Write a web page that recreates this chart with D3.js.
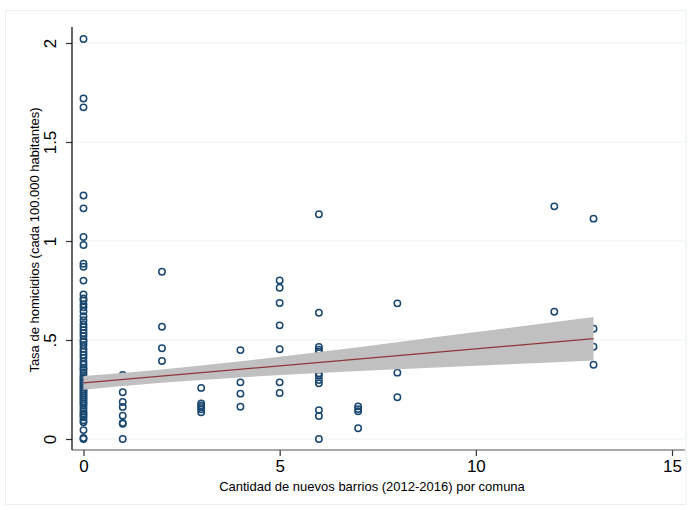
<!DOCTYPE html>
<html><head><meta charset="utf-8">
<script src="https://cdn.jsdelivr.net/npm/d3@7"></script>
<style>body{margin:0;background:#fff}svg{display:block}text{font-family:"Liberation Sans",Arial,sans-serif}</style>
</head><body><svg id="c" width="689" height="510"></svg>
<script>
// Scatter data: number of new neighbourhoods (x) and homicide rate (y)
const x0Vals = [2.02,1.72,1.675,1.23,1.165,1.02,0.98,0.885,0.87,0.80,0.73,0.71,0.70,0.68,0.665,0.645,0.62,0.60,0.58,0.565,0.55,0.535,0.52,0.50,0.49,0.475,0.455,0.44,0.425,0.41,0.39,0.375,0.36,0.35,0.335,0.32,0.31,0.30,0.29,0.28,0.27,0.26,0.25,0.24,0.23,0.22,0.21,0.20,0.19,0.18,0.17,0.155,0.14,0.13,0.12,0.11,0.095,0.085,0.045,0.005,0];
const x1Vals = [0.323,0.236,0.187,0.162,0.118,0.081,0.077,0];
const x2Vals = [0.845,0.567,0.458,0.394];
const x3Vals = [0.258,0.18,0.17,0.16,0.15,0.135];
const x4Vals = [0.449,0.286,0.229,0.163];
const x5Vals = [0.801,0.764,0.687,0.574,0.453,0.286,0.232];
const x6Vals = [1.135,0.638,0.465,0.451,0.441,0.332,0.32,0.298,0.281,0.146,0.116,0];
const x7Vals = [0.165,0.151,0.14,0.054];
const x8Vals = [0.685,0.335,0.211];
const x12Vals = [1.175,0.643];
const x13Vals = [1.113,0.557,0.466,0.375];
const groups = [[0,x0Vals],[1,x1Vals],[2,x2Vals],[3,x3Vals],[4,x4Vals],[5,x5Vals],[6,x6Vals],[7,x7Vals],[8,x8Vals],[12,x12Vals],[13,x13Vals]];

// Linear fit and 95% CI
const fitX = [0, 13];
const fitY = [0.2835, 0.5065];
const ciX  = [0, 2, 4, 6, 8, 10, 13];
const ciLo = [0.2485, 0.284, 0.311, 0.333, 0.352, 0.370, 0.3965];
const ciHi = [0.3185, 0.351, 0.393, 0.440, 0.489, 0.540, 0.6165];

const xTicks = [0, 5, 10, 15];
const yTicks = [0, 0.5, 1, 1.5, 2];
const yTickLabels = ["0", ".5", "1", "1.5", "2"];
const xTitle = "Cantidad de nuevos barrios (2012-2016) por comuna";
const yTitle = "Tasa de homicidios (cada 100.000 habitantes)";

const points = [];
groups.forEach(([gx, vals]) => vals.forEach(v => points.push({x: gx, y: v})));

const svg = d3.select("#c");
const x = d3.scaleLinear().domain([0, 15]).range([83.5, 672]);
const y = d3.scaleLinear().domain([0, 2]).range([439, 43]);
const pLeft = 72, pRight = 686, pTop = 27, pBottom = 450;

// outer light frame
svg.append("rect").attr("x", 5.5).attr("y", 10.5).attr("width", 680.5).attr("height", 494)
  .attr("fill", "none").attr("stroke", "#eaf0f1").attr("stroke-width", 1.2);

// gridlines
svg.append("g").selectAll("line").data(yTicks).join("line")
  .attr("x1", pLeft).attr("x2", pRight - 1)
  .attr("y1", d => y(d)).attr("y2", d => y(d))
  .attr("stroke", "#eaf2f3").attr("stroke-width", 1.2);

// scatter
svg.append("g").selectAll("circle").data(points).join("circle")
  .attr("cx", d => x(d.x)).attr("cy", d => y(d.y)).attr("r", 3.2)
  .attr("fill", "none").attr("stroke", "#1a476f").attr("stroke-width", 1.5);

// CI band
const ci = ciX.map((cx, i) => ({x: cx, lo: ciLo[i], hi: ciHi[i]}));
svg.append("path").datum(ci)
  .attr("d", d3.area().x(d => x(d.x)).y0(d => y(d.lo)).y1(d => y(d.hi)).curve(d3.curveMonotoneX))
  .attr("fill", "#c0c0c0");

// fit line
svg.append("path").datum(fitX.map((fx, i) => ({x: fx, y: fitY[i]})))
  .attr("d", d3.line().x(d => x(d.x)).y(d => y(d.y)))
  .attr("fill", "none").attr("stroke", "#90353b").attr("stroke-width", 1.3);

// y axis
const yAxis = d3.axisLeft(y).tickValues(yTicks).tickSize(6).tickPadding(4)
  .tickFormat((d, i) => yTickLabels[i]);
const gy = svg.append("g").attr("transform", `translate(${pLeft},0)`).call(yAxis);
gy.select(".domain").remove();
gy.append("line").attr("x1", 0).attr("x2", 0).attr("y1", pTop).attr("y2", pBottom).attr("stroke", "#000").attr("stroke-width", 1.2);
gy.selectAll(".tick line").attr("stroke", "#333").attr("stroke-width", 1.2);
gy.selectAll(".tick text").attr("font-size", 17).attr("fill", "#000")
  .attr("text-anchor", "middle").attr("dy", null)
  .attr("transform", "translate(-22,0) rotate(-90)").attr("x", 0).attr("y", 6);

// x axis
const xAxis = d3.axisBottom(x).tickValues(xTicks).tickSize(6).tickPadding(4);
const gx = svg.append("g").attr("transform", `translate(0,${pBottom})`).call(xAxis);
gx.select(".domain").remove();
gx.append("line").attr("x1", pLeft).attr("x2", pRight - 1).attr("y1", 0).attr("y2", 0).attr("stroke", "#555").attr("stroke-width", 1.2);
gx.selectAll(".tick line").attr("stroke", "#333").attr("stroke-width", 1.2);
gx.selectAll(".tick text").attr("font-size", 17).attr("fill", "#000").attr("y", 10);

// titles
svg.append("text").attr("x", 372).attr("y", 491).attr("text-anchor", "middle")
  .attr("font-size", 13).attr("fill", "#000").text(xTitle);
svg.append("text").attr("transform", "translate(39,240) rotate(-90)").attr("text-anchor", "middle")
  .attr("font-size", 13).attr("fill", "#000").text(yTitle);
</script></body></html>
